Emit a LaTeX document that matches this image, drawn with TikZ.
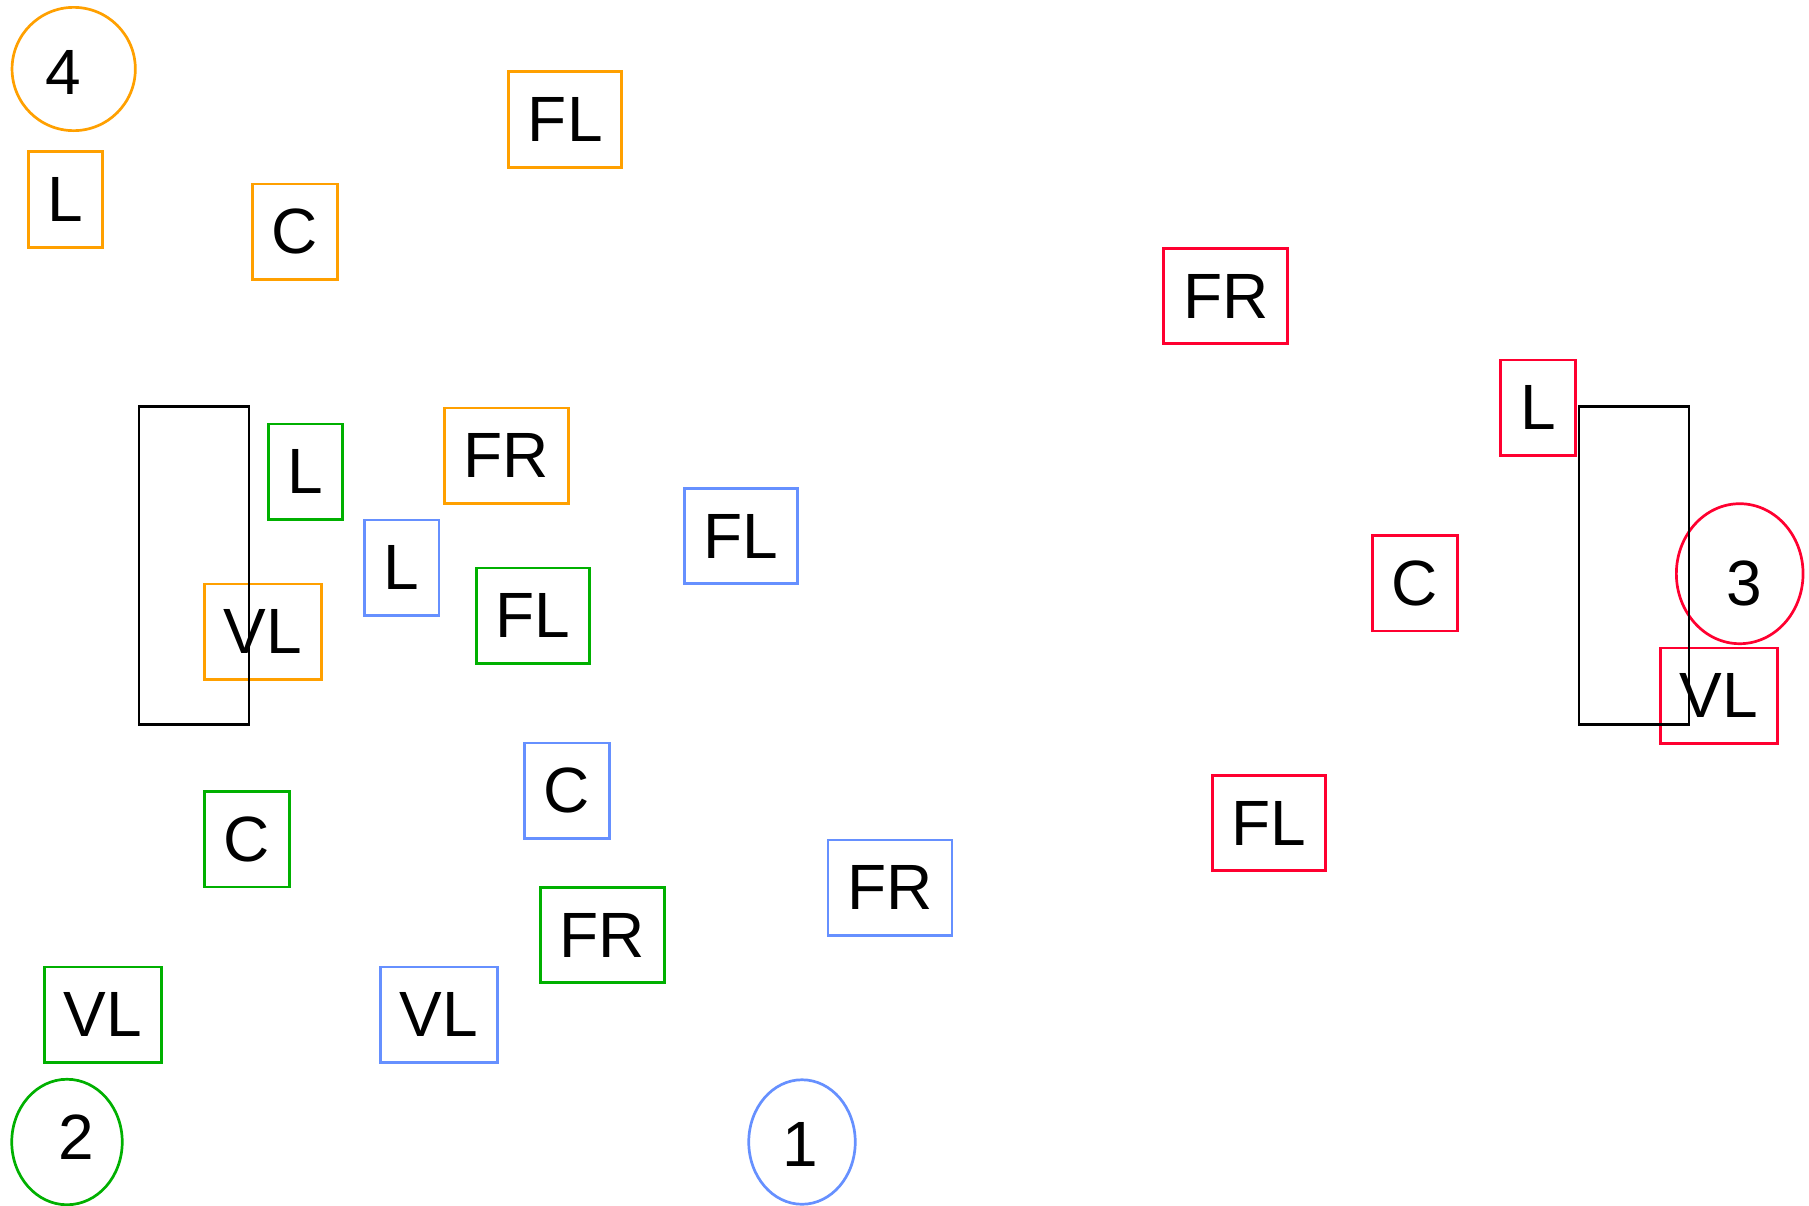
\documentclass[tikz,border=0pt]{standalone}
\usepackage{fontspec}
\setmainfont{Liberation Sans}
\usepackage{tikz}
\usetikzlibrary{shapes.geometric}
\definecolor{orangeStroke}{HTML}{FFA000}
\definecolor{greenStroke}{HTML}{00B000}
\definecolor{blueStroke}{HTML}{6690FF}
\definecolor{redStroke}{HTML}{FF0030}
\tikzset{
  tag/.style={
    rectangle,
    draw=#1,
    line width=2.7pt,
    minimum height=95.6pt,
    inner sep=0pt
  },
  wL/.style={minimum width=74.6pt},
  wC/.style={minimum width=85pt},
  wFL/.style={minimum width=113pt},
  wFR/.style={minimum width=124pt},
  wVL/.style={minimum width=117pt},
  marker/.style={
    ellipse,
    draw=#1,
    line width=2.7pt,
    inner sep=0pt
  },
  frame/.style={draw=black,line width=2.7pt}
}

\begin{document}
\begin{tikzpicture}[x=1pt,y=-1pt,font=\fontsize{64}{70}\selectfont]
  \useasboundingbox (0,0) rectangle (1809,1205);

  % group 4
  \node[marker=orangeStroke, minimum width=123.3pt, minimum height=123.3pt,
        label={[xshift=-10pt,yshift=-3pt]center:4}] (four) at (73.7,69) {};
  \node[tag=orangeStroke, wL] (orangeL) at (65.5,199.5) {L};
  \node[tag=orangeStroke, wC] (orangeC) at (295,231.8) {C};
  \node[tag=orangeStroke, wFL] (orangeFL) at (565.3,119.4) {FL};
  \node[tag=orangeStroke, wFR] (orangeFR) at (506.3,455.7) {FR};
  \node[tag=orangeStroke, wVL] (orangeVL) at (262.7,631.7) {VL};

  % group 2
  \node[marker=greenStroke, minimum width=110.5pt, minimum height=125.5pt,
        label={[xshift=9pt,yshift=5pt]center:2}] (two) at (67,1142) {};
  \node[tag=greenStroke, wL] (greenL) at (305.5,471.7) {L};
  \node[tag=greenStroke, wFL] (greenFL) at (532.8,615.8) {FL};
  \node[tag=greenStroke, wC] (greenC) at (246.9,839.3) {C};
  \node[tag=greenStroke, wFR] (greenFR) at (602.2,935) {FR};
  \node[tag=greenStroke, wVL] (greenVL) at (102.7,1014.7) {VL};

  % group 1
  \node[marker=blueStroke, minimum width=106.5pt, minimum height=124.5pt,
        label={[xshift=-2pt,yshift=-2pt]center:1}] (one) at (802,1142) {};
  \node[tag=blueStroke, wL] (blueL) at (401.7,567.7) {L};
  \node[tag=blueStroke, wFL] (blueFL) at (740.7,536) {FL};
  \node[tag=blueStroke, wC] (blueC) at (567,790.9) {C};
  \node[tag=blueStroke, wFR] (blueFR) at (890,887.8) {FR};
  \node[tag=blueStroke, wVL] (blueVL) at (439,1014.7) {VL};

  % group 3
  \node[marker=redStroke, minimum width=126.7pt, minimum height=140pt,
        label={[xshift=5pt,yshift=-10pt]center:3}] (three) at (1739.7,573.7) {};
  \node[tag=redStroke, wFR] (redFR) at (1225.8,296) {FR};
  \node[tag=redStroke, wL] (redL) at (1538,407.8) {L};
  \node[tag=redStroke, wC] (redC) at (1415,583.2) {C};
  \node[tag=redStroke, wFL] (redFL) at (1269,823) {FL};
  \node[tag=redStroke, wVL] (redVL) at (1719,695.8) {VL};

  % walls
  \draw[frame] (139,406.5) rectangle (249,724.5);
  \draw[frame] (1579,406.5) rectangle (1689,724.5);
\end{tikzpicture}
\end{document}
